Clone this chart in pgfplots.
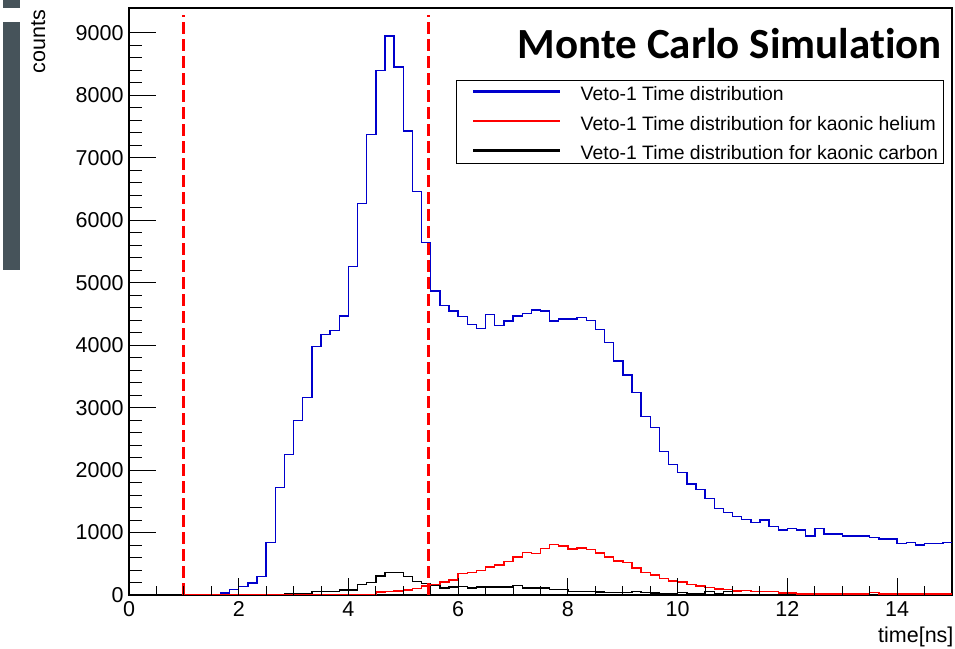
\documentclass[border=0pt]{standalone}
\usepackage{fontspec}
\setmainfont{Liberation Sans}
\newfontfamily\titlefont[Ligatures=NoCommon]{Carlito}
\usepackage{pgfplots}
\usepackage{pgfplotstable}
\pgfplotsset{compat=1.18}
\definecolor{rootblue}{rgb}{0,0,0.80}
\definecolor{rootred}{rgb}{1,0,0}
\definecolor{graybar}{HTML}{46535A}

\pgfplotstableread{
k blue red black
3 0 0 0
4 0 0 0
5 0 0 0
6 0 0 0
7 0 0 0
8 0 0 0
9 0 0 0
10 35 0 0
11 91 0 0
12 133 0 0
13 192 0 0
14 294 0 0
15 845 0 0
16 1724 0 0
17 2247 10 16
18 2791 10 16
19 3165 10 16
20 3977 10 53
21 4174 10 53
22 4233 10 53
23 4470 10 77
24 5257 10 80
25 6272 10 168
26 7371 12 197
27 8396 45 306
28 8951 60 363
29 8455 65 363
30 7430 80 300
31 6458 100 220
32 5648 147 183
33 4868 170 150
34 4633 210 115
35 4548 240 130
36 4457 340 133
37 4334 365 112
38 4270 392 130
39 4494 448 128
40 4313 480 128
41 4387 541 128
42 4467 608 152
43 4510 683 115
44 4564 667 112
45 4548 745 110
46 4387 805 91
47 4419 787 85
48 4419 736 53
49 4446 755 53
50 4393 725 53
51 4254 672 48
52 4040 606 40
53 3747 547 40
54 3523 518 37
55 3245 435 53
56 2856 365 37
57 2679 318 32
58 2295 267 16
59 2092 226 16
60 1964 205 37
61 1777 170 16
62 1692 146 16
63 1548 120 53
64 1387 99 16
65 1323 88 53
66 1254 64 10
67 1211 72 10
68 1158 58 10
69 1201 56 10
70 1100 56 10
71 1041 35 10
72 1062 32 10
73 1041 18 10
74 945 16 10
75 1065 16 10
76 977 16 8
77 977 16 8
78 945 16 8
79 945 16 8
80 945 16 8
81 918 40 8
82 897 15 8
83 897 15 8
84 820 15 8
85 838 15 8
86 801 15 8
87 820 15 8
88 820 15 8
89 840 15 8
90 840 15 8
}\hist

\begin{document}
\begin{tikzpicture}
\useasboundingbox (0,0) rectangle (955bp,649bp);
\fill[graybar] (3bp,641bp) rectangle (20bp,649bp);
\fill[graybar] (3bp,379bp) rectangle (20bp,627bp);
\begin{axis}[
  at={(129bp,54bp)}, anchor=south west, scale only axis,
  width=823bp, height=587bp,
  xmin=0, xmax=15, ymin=0, ymax=9400,
  axis line style={line width=1.5bp, black},
  tick align=inside, tick pos=left,
  xtick distance=2, ytick distance=1000, minor y tick num=4,
  xtick style={draw=none},
  ytick style={line width=1bp, black},
  major tick length=27bp, minor tick length=13bp,
  scaled y ticks=false,
  /pgf/number format/assume math mode=true,
  /pgf/number format/1000 sep={},
  tick label style={font=\fontsize{21.5bp}{25bp}\selectfont},
  xticklabel style={yshift=-3bp},
  yticklabel style={xshift=-2bp},
  xlabel={time[ns]},
  xlabel style={at={(axis description cs:1.002,-0.0801)}, anchor=base east, inner sep=0pt, font=\fontsize{21.5bp}{25bp}\selectfont},
  ylabel={counts},
  ylabel style={at={(axis description cs:-0.102,0.9966)}, anchor=base east, inner sep=0pt, font=\fontsize{21.5bp}{25bp}\selectfont},
  legend style={at={(axis description cs:0.3973,0.8773)}, anchor=north west,
    draw=black, line width=1bp, fill=white,
    inner xsep=5bp, inner ysep=4bp, row sep=13.5bp,
    font=\fontsize{19.4bp}{23bp}\selectfont,
    nodes={inner sep=0pt, text height=14bp, text depth=0pt},
    /tikz/every odd column/.append style={column sep=19bp}},
  legend cell align=left,
  legend image code/.code={\path[draw=none] (0bp,-5bp) -- (0bp,9bp);\draw[#1, line width=2.5bp] (12bp,2bp) -- (99bp,2bp);},
]
\addlegendimage{rootblue}
\addlegendentry{Veto-1 Time distribution}
\addlegendimage{rootred}
\addlegendentry{Veto-1 Time distribution for kaonic helium}
\addlegendimage{black}
\addlegendentry{Veto-1 Time distribution for kaonic carbon}

\addplot[black, line width=1.4bp, const plot, forget plot] table[x expr=\thisrow{k}/6, y=black] {\hist};
\addplot[rootred, line width=1.4bp, const plot, forget plot, skip coords between index={0}{3}] table[x expr=\thisrow{k}/6, y=red] {\hist};
\addplot[rootblue, line width=1.4bp, const plot, forget plot, skip coords between index={0}{7}] table[x expr=\thisrow{k}/6, y=blue] {\hist};

\addplot[rootred, line width=3bp, dash pattern=on 12bp off 5bp, forget plot] coordinates {(1,0) (1,9290)};
\addplot[rootred, line width=3bp, dash pattern=on 12bp off 5bp, forget plot] coordinates {(5.45,0) (5.45,9290)};

\node[anchor=base east, inner sep=0pt, font=\titlefont\bfseries\fontsize{43bp}{50bp}\selectfont] at (axis description cs:0.9878,0.9148) {Monte Carlo Simulation};
\end{axis}
\begin{axis}[
  at={(129bp,54bp)}, anchor=south west, scale only axis,
  width=823bp, height=587bp,
  xmin=0, xmax=15, ymin=0, ymax=9400,
  axis line style={draw=none},
  tick align=inside, tick pos=left,
  xtick distance=2, minor x tick num=3,
  xticklabels={}, ytick=\empty,
  major tick length=17bp, minor tick length=8.5bp,
  xtick style={line width=1bp, black},
]
\end{axis}
\end{tikzpicture}
\end{document}
